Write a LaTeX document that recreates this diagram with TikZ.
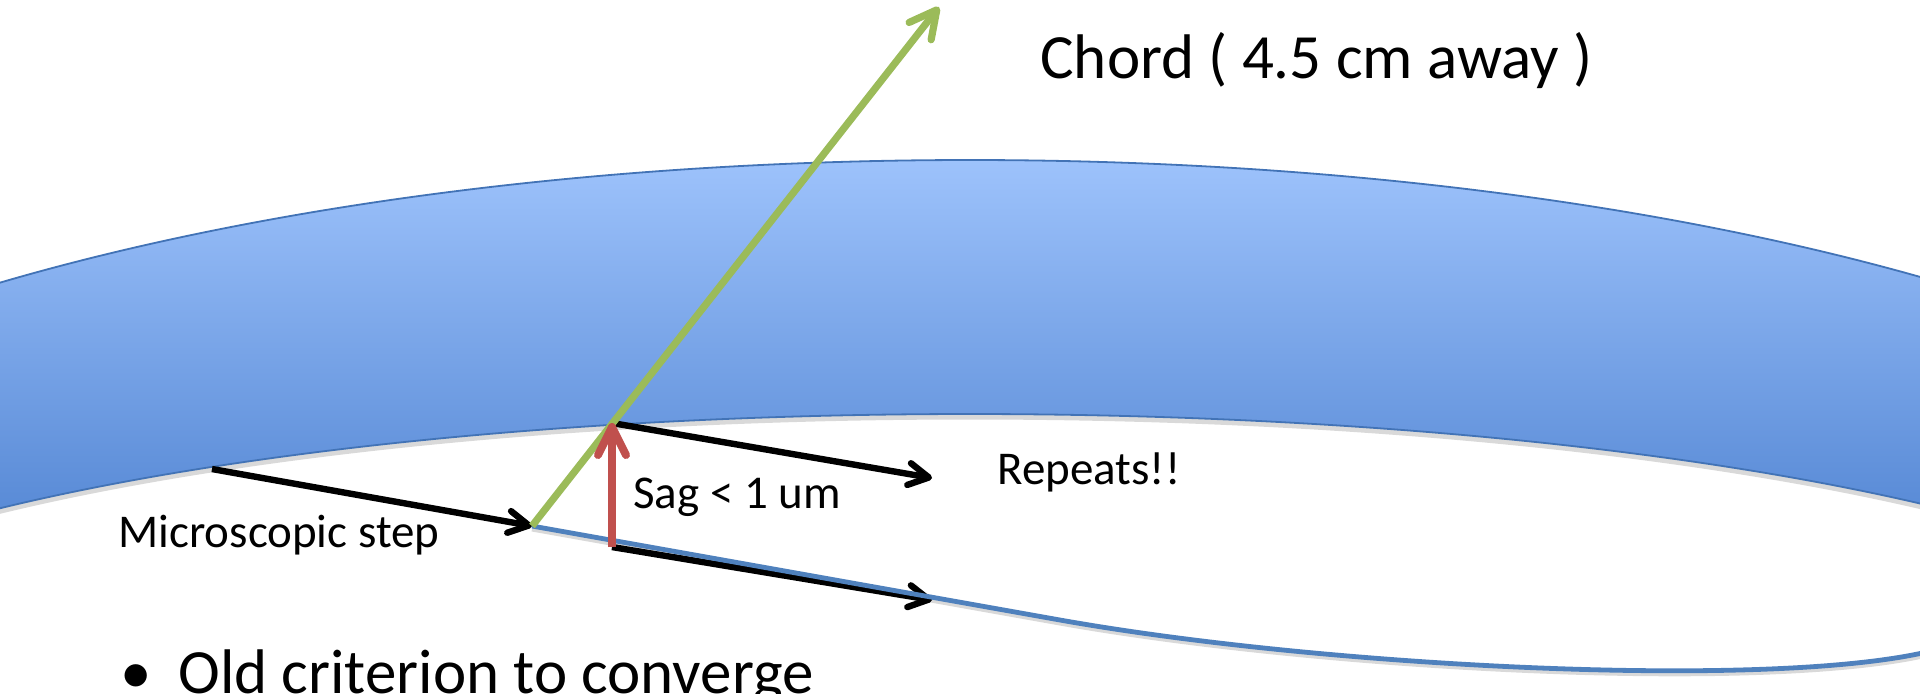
\documentclass[tikz,border=0pt]{standalone}
\usepackage{fontspec}
\setmainfont{Carlito}
\usetikzlibrary{arrows.meta}
\definecolor{bandtop}{RGB}{158,195,252}
\definecolor{bandmid}{RGB}{145,185,246}
\definecolor{bandbot}{RGB}{88,138,214}
\definecolor{bandedge}{RGB}{66,115,182}
\definecolor{pathblue}{RGB}{79,129,189}
\definecolor{chordgreen}{RGB}{155,187,89}
\definecolor{sagred}{RGB}{192,80,77}

\begin{document}
\begin{tikzpicture}[x=0.5pt,y=-0.5pt,
  stepline/.style={line width=3.2pt, draw=black, -{Straight Barb[length=10pt,width=11pt,round]}},
  chordline/.style={line width=3.6pt, draw=chordgreen, -{Straight Barb[length=13.5pt,width=14pt,round]}},
  sagline/.style={line width=4pt, draw=sagred, -{Straight Barb[length=14pt,width=14pt,round]}},
  orbit/.style={draw=pathblue, line width=2.4pt},
  small/.style={font=\fontsize{23.5}{28}\selectfont, inner sep=0pt, anchor=base west},
  large/.style={font=\fontsize{31.5}{38}\selectfont, inner sep=0pt, anchor=base west},
  bandline/.style={draw=bandedge, line width=0.9pt},
  softshadow/.style={draw=black, opacity=0.15, line width=2.5pt}
]
\useasboundingbox (0,0) rectangle (1920,693);
\clip (0,0) rectangle (1920,693);

% curved band: region between two elliptic arcs, vertical gradient
\begin{scope}
  \clip (970,677) ellipse [x radius=1500, y radius=517];
  \shade[top color=bandtop, middle color=bandmid, bottom color=bandbot]
    (0,155) rectangle (1920,515);
\end{scope}
\fill[white] (970,696) ellipse [x radius=1300, y radius=282];
\draw[softshadow] (970,699) ellipse [x radius=1300, y radius=282];
\draw[bandline] (970,677) ellipse [x radius=1500, y radius=517];
\draw[bandline] (970,696) ellipse [x radius=1300, y radius=282];

% key points
\coordinate (m0) at (212,469);
\coordinate (p0) at (532,526);
\coordinate (p1) at (939,7);
\coordinate (s0) at (612,547);
\coordinate (s1) at (612,423);
\coordinate (r1) at (932,478);
\coordinate (b1) at (932,600);
\coordinate (bk) at (1060,620);
\coordinate (bend) at (1935,650);

% steps
\draw[stepline] (m0) -- (p0);
\draw[stepline] (s1) -- (r1);
\draw[stepline] (s0) -- (b1);

% track below the band
\draw[softshadow] ([yshift=-1.5pt]p0) -- ([yshift=-1.5pt]bk)
  .. controls (1330,671) and (1780,693) .. ([yshift=-1.5pt]bend);
\draw[orbit] (p0) -- (bk) .. controls (1330,668) and (1780,690) .. (bend);

% chord and sag
\draw[chordline] (p0) -- (p1);
\draw[sagline] (s0) -- (s1);

% labels
\node[large] (chord) at (1040,78) {Chord ( 4.5 cm away )};
\node[small] (micro) at (118,547) {Microscopic step};
\node[small] (sag) at (633,508) {Sag < 1 um};
\node[small] (rep) at (997,484) {Repeats!!};
\node[large] (dot) at (120,693) {•};
\node[large] (old) at (178,693) {Old criterion to converge};
\end{tikzpicture}
\end{document}
